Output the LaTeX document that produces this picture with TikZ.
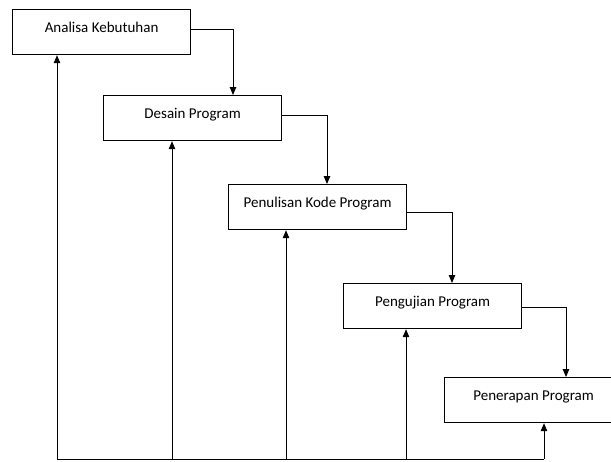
\documentclass[tikz,border=0pt]{standalone}
\usepackage{fontspec}
\setmainfont{Carlito}
\usetikzlibrary{arrows.meta}
\tikzset{
  tahap/.style={draw,line width=1.2pt,minimum width=178pt,minimum height=45pt,inner sep=0pt,anchor=north west,
    text height=8pt,text depth=8pt,font=\fontsize{15}{18}\selectfont},
  panah/.style={-{Triangle[length=8pt,width=6.5pt]}}
}
\begin{document}
\begin{tikzpicture}[x=1pt,y=-1pt,line width=0.9pt]
          \useasboundingbox (0,0) rectangle (611,461);
          \node[tahap] (ana) at (12,9) {Analisa Kebutuhan};
          \node[tahap] (des) at (103,95) {Desain Program};
          \node[tahap] (tulis) at (228,184) {Penulisan Kode Program};
          \node[tahap] (uji) at (343,283) {Pengujian Program};
          \node[tahap] (terap) at (444,377) {Penerapan Program};

          \draw[panah] ([yshift=2.5pt]ana.east) -| ([xshift=130pt]des.north west);
          \draw[panah] ([yshift=2.5pt]des.east) -| ([xshift=99pt]tulis.north west);
          \draw[panah] ([yshift=-5.5pt]tulis.east) -| ([xshift=109pt]uji.north west);
          \draw[panah] ([yshift=-1.5pt]uji.east) -| ([xshift=122pt]terap.north west);

          \coordinate (k1) at (57,459); \coordinate (k2) at (172,459); \coordinate (k3) at (286,459);
          \coordinate (k4) at (406,459); \coordinate (k5) at (544,459);
          \draw (k1) -- (k5);
          \draw[panah] (k1) -- (k1 |- ana.south);
          \draw[panah] (k2) -- (k2 |- des.south);
          \draw[panah] (k3) -- (k3 |- tulis.south);
          \draw[panah] (k4) -- (k4 |- uji.south);
          \draw[panah] (k5) -- (k5 |- terap.south);
        \end{tikzpicture}
\end{document}
